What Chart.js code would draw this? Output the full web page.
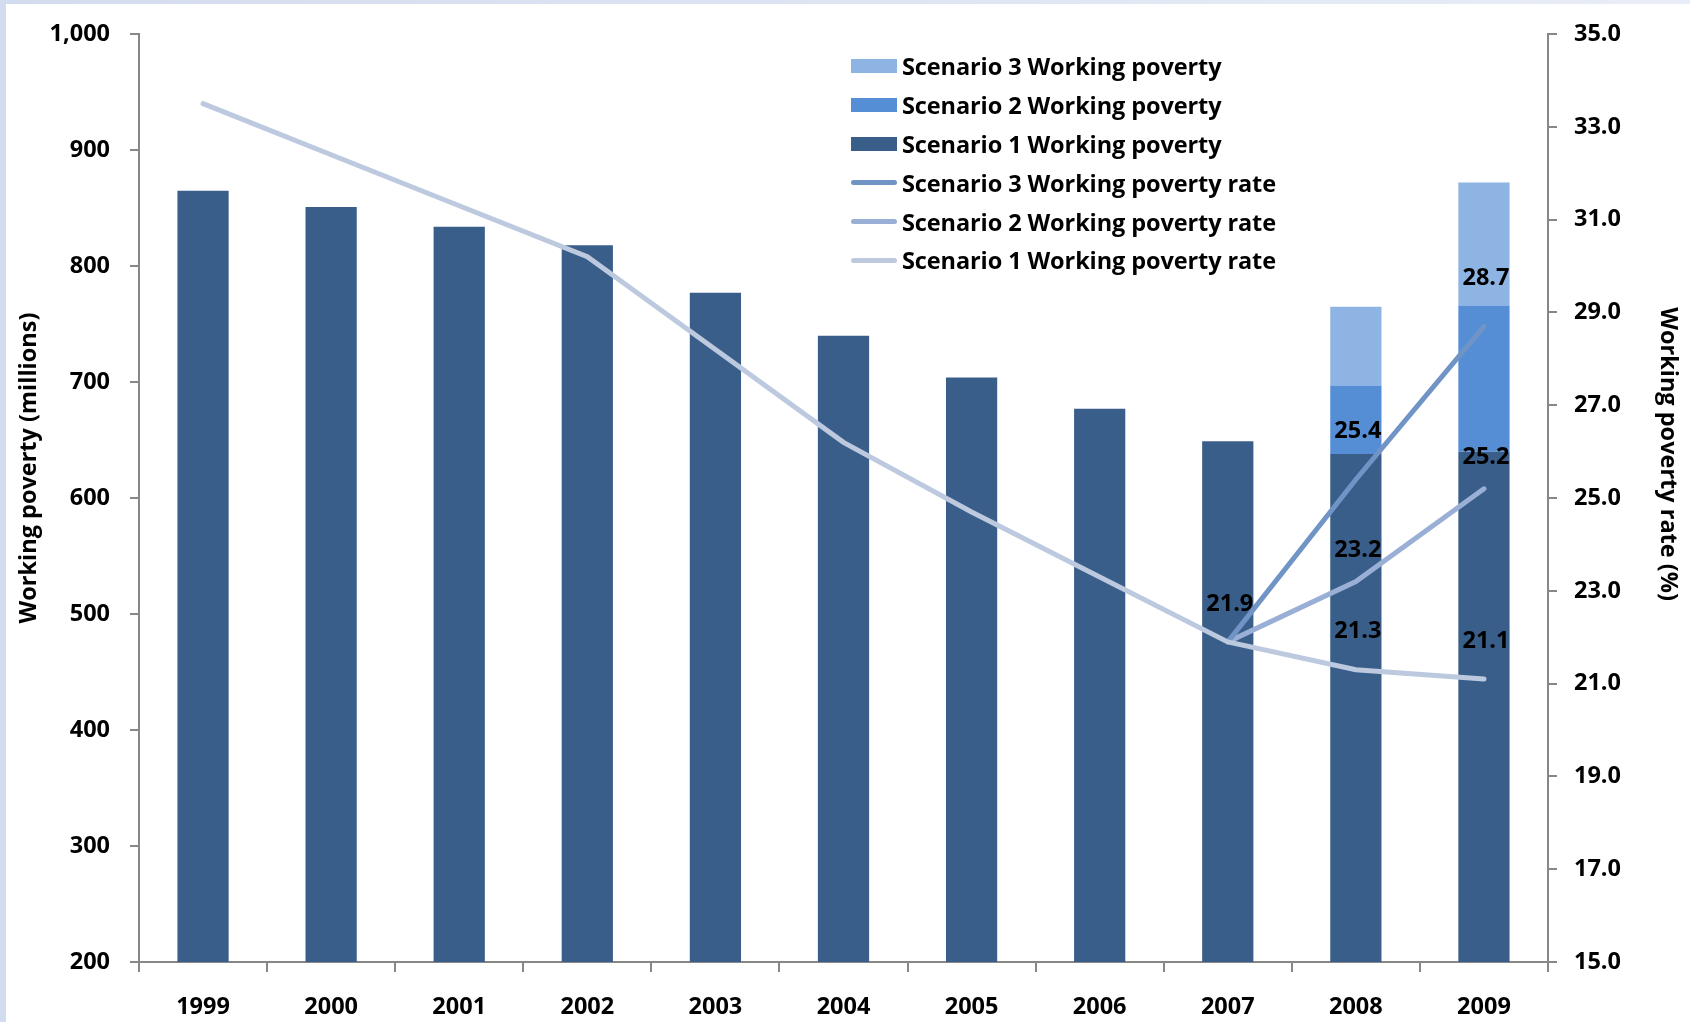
<!DOCTYPE html>
<html>
<head>
<meta charset="utf-8">
<script src="https://cdn.jsdelivr.net/npm/chart.js@4/dist/chart.umd.min.js"></script>
<style>
  body { margin: 0; background: linear-gradient(90deg, #d3dcef, #e8edf7); width: 1690px; height: 1022px; overflow: hidden; }
  #panel { position: absolute; left: 6px; top: 4px; right: 0; bottom: 0; background: #fff; }
  #chart { position: absolute; left: 0; top: 0; }
  #legend { position: absolute; left: 851px; top: 47px; font-family: "Open Sans", sans-serif; font-weight: 700; font-size: 23.5px; color: #000; letter-spacing: -0.1px; }
  #legend div { height: 38.8px; display: flex; align-items: center; }
  #legend span.sw { display: inline-block; width: 46px; margin-right: 5px; }
</style>
</head>
<body>
<div id="panel"></div>
<canvas id="chart" width="1690" height="1022"></canvas>
<div id="legend"></div>
<script>
const years = ['1999', '2000', '2001', '2002', '2003', '2004', '2005', '2006', '2007', '2008', '2009'];

// working poverty, millions (stacked pieces)
const scen1Poverty = [865, 851, 834, 818, 777, 740, 704, 677, 649, 638, 640];
const scen2Extra = [null, null, null, null, null, null, null, null, null, 59, 126];
const scen3Extra = [null, null, null, null, null, null, null, null, null, 68, 106];

// working poverty rate, %
const scen1Rate = [33.5, 32.4, 31.3, 30.2, 28.2, 26.2, 24.7, 23.3, 21.9, 21.3, 21.1];
const scen2Rate = [null, null, null, null, null, null, null, null, 21.9, 23.2, 25.2];
const scen3Rate = [null, null, null, null, null, null, null, null, 21.9, 25.4, 28.7];

const leftTicks = [200, 300, 400, 500, 600, 700, 800, 900, 1000];
const rightTicks = [15, 17, 19, 21, 23, 25, 27, 29, 31, 33, 35];

const leftTitle = 'Working poverty (millions)';
const rightTitle = 'Working poverty rate (%)';

// which points of each rate line get a value label
const labelled = { s1: [8, 9, 10], s2: [9, 10], s3: [9, 10] };

const legendOrder = [2, 1, 0, 3, 4, 5];

const axisGray = '#878787';
const fontFamily = '"Open Sans"';
const tickFont = { family: fontFamily, weight: '700', size: 23.5 };
const canvasFont = '700 23.5px "Open Sans"';

const pointLabels = {
  id: 'pointLabels',
  afterDatasetsDraw(c) {
    const ctx = c.ctx;
    ctx.save();
    ctx.font = canvasFont;
    ctx.fillStyle = '#000';
    ctx.textAlign = 'center';
    ctx.textBaseline = 'middle';
    c.data.datasets.forEach((ds, i) => {
      if (!ds.labelKey) return;
      const meta = c.getDatasetMeta(i);
      labelled[ds.labelKey].forEach(idx => {
        const pt = meta.data[idx];
        ctx.fillText(ds.data[idx].toFixed(1), pt.x + 2, pt.y - ds.labelLift);
      });
    });
    ctx.restore();
  }
};

// axis titles sit a little above the middle of the axes, as in the original
const axisTitles = {
  id: 'axisTitles',
  afterDraw(c) {
    const ctx = c.ctx;
    const mid = (c.chartArea.top + c.chartArea.bottom) / 2;
    ctx.save();
    ctx.font = canvasFont;
    ctx.fillStyle = '#000';
    ctx.textAlign = 'center';
    ctx.textBaseline = 'middle';
    ctx.save();
    ctx.translate(29, mid - 30);
    ctx.rotate(-Math.PI / 2);
    ctx.fillText(leftTitle, 0, 0);
    ctx.restore();
    ctx.translate(1668, mid - 44);
    ctx.rotate(Math.PI / 2);
    ctx.fillText(rightTitle, 0, 0);
    ctx.restore();
  }
};

const barOpts = { yAxisID: 'y', order: 2, barPercentage: 0.4, categoryPercentage: 1 };

const chart = new Chart(document.getElementById('chart'), {
  type: 'bar',
  data: {
    labels: years,
    datasets: [
      { ...barOpts, label: 'Scenario 1 Working poverty', data: scen1Poverty, backgroundColor: '#3a5e8a' },
      { ...barOpts, label: 'Scenario 2 Working poverty', data: scen2Extra, backgroundColor: '#558ed5' },
      { ...barOpts, label: 'Scenario 3 Working poverty', data: scen3Extra, backgroundColor: '#8eb4e3' },
      { type: 'line', label: 'Scenario 3 Working poverty rate', data: scen3Rate, borderColor: '#7094c6', yAxisID: 'y2', order: 1, labelKey: 's3', labelLift: 48 },
      { type: 'line', label: 'Scenario 2 Working poverty rate', data: scen2Rate, borderColor: '#9aafd5', yAxisID: 'y2', order: 1, labelKey: 's2', labelLift: 31 },
      { type: 'line', label: 'Scenario 1 Working poverty rate', data: scen1Rate, borderColor: '#bcc9df', yAxisID: 'y2', order: 0, labelKey: 's1', labelLift: 38 }
    ]
  },
  options: {
    responsive: false,
    animation: false,
    layout: { padding: { left: 0, right: 0, top: 32, bottom: 0 } },
    elements: {
      line: { borderWidth: 5, tension: 0, borderCapStyle: 'round', fill: false },
      point: { radius: 0, hoverRadius: 0 }
    },
    plugins: {
      legend: { display: false },
      tooltip: { enabled: false }
    },
    scales: {
      x: {
        stacked: true,
        offset: true,
        grid: { offset: true, drawOnChartArea: false, tickLength: 10, color: axisGray, lineWidth: 2 },
        border: { color: axisGray, width: 2 },
        ticks: { font: tickFont, color: '#000', padding: 21 },
        afterFit(s) { s.height = 60; }
      },
      y: {
        stacked: true,
        position: 'left',
        min: 200,
        max: 1000,
        afterBuildTicks(s) { s.ticks = leftTicks.map(v => ({ value: v })); },
        grid: { drawOnChartArea: false, tickLength: 9, color: axisGray, lineWidth: 2 },
        border: { color: axisGray, width: 2 },
        ticks: { font: tickFont, color: '#000', padding: 20, callback: v => v.toLocaleString('en-US') },
        afterFit(s) { s.width = 139; }
      },
      y2: {
        position: 'right',
        min: 15,
        max: 35,
        afterBuildTicks(s) { s.ticks = rightTicks.map(v => ({ value: v })); },
        grid: { drawOnChartArea: false, tickLength: 9, color: axisGray, lineWidth: 2 },
        border: { color: axisGray, width: 2 },
        ticks: { font: tickFont, color: '#000', padding: 17, callback: v => v.toFixed(1) },
        afterFit(s) { s.width = 142; }
      }
    }
  },
  plugins: [pointLabels, axisTitles]
});

// legend, reversed bar order like the original
const legend = document.getElementById('legend');
legendOrder.forEach(i => {
  const ds = chart.data.datasets[i];
  const row = document.createElement('div');
  const sw = document.createElement('span');
  sw.className = 'sw';
  if (ds.type === 'line') {
    sw.style.height = '5px';
    sw.style.borderRadius = '3px';
    sw.style.background = ds.borderColor;
  } else {
    sw.style.height = '14px';
    sw.style.background = ds.backgroundColor;
  }
  row.appendChild(sw);
  row.appendChild(document.createTextNode(ds.label));
  legend.appendChild(row);
});
</script>
</body>
</html>
